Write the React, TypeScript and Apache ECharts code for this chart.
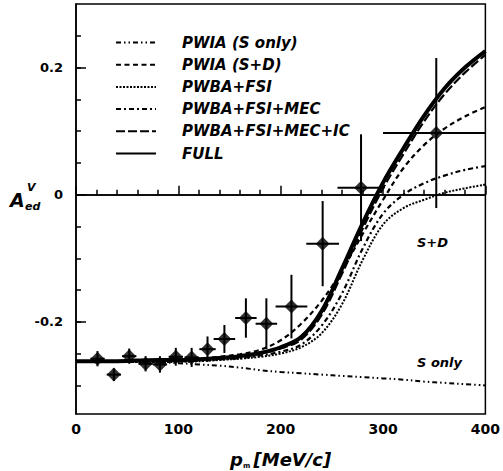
import { useEffect, useRef } from "react";
import * as echarts from "echarts";

// model curves, sampled on pm grid [MeV/c]
const pmGrid = [0, 20, 40, 60, 80, 100, 120, 140, 160, 180, 200, 220, 240, 260, 280, 300, 320, 340, 360, 380, 400];
const pwiaSOnly = [-0.262, -0.262, -0.263, -0.263, -0.264, -0.265, -0.267, -0.269, -0.272, -0.276, -0.279, -0.281, -0.283, -0.285, -0.287, -0.289, -0.291, -0.294, -0.296, -0.298, -0.300];
const pwiaSD = [-0.262, -0.262, -0.262, -0.262, -0.261, -0.260, -0.258, -0.255, -0.251, -0.244, -0.229, -0.203, -0.167, -0.119, -0.062, -0.008, 0.042, 0.078, 0.104, 0.123, 0.138];
const pwbaFsi = [-0.263, -0.263, -0.263, -0.263, -0.263, -0.263, -0.262, -0.260, -0.258, -0.255, -0.250, -0.240, -0.218, -0.172, -0.103, -0.047, -0.021, -0.008, 0.003, 0.010, 0.016];
const pwbaFsiMec = [-0.262, -0.262, -0.262, -0.262, -0.262, -0.262, -0.261, -0.259, -0.257, -0.253, -0.247, -0.236, -0.206, -0.155, -0.085, -0.030, 0.000, 0.018, 0.030, 0.039, 0.045];
const pwbaFsiMecIc = [-0.263, -0.263, -0.263, -0.262, -0.261, -0.261, -0.260, -0.258, -0.255, -0.250, -0.242, -0.228, -0.189, -0.124, -0.054, 0.010, 0.064, 0.115, 0.158, 0.192, 0.220];
const full = [-0.262, -0.262, -0.262, -0.261, -0.260, -0.260, -0.259, -0.257, -0.254, -0.249, -0.240, -0.224, -0.183, -0.116, -0.045, 0.019, 0.073, 0.124, 0.167, 0.200, 0.226];

// measured data points
const dataPm = [21, 37, 52, 68, 82, 97.5, 113, 128.5, 145, 166, 186, 210.5, 241, 278.5, 352];
const dataA = [-0.258, -0.283, -0.254, -0.266, -0.267, -0.255, -0.256, -0.243, -0.227, -0.194, -0.203, -0.176, -0.077, 0.011, 0.097];
const dataPmErr = [7, 7, 7, 7, 7, 7, 7, 8, 10.5, 10.5, 10.5, 15.5, 16, 23, 52];
const dataAErr = [0.012, 0.01, 0.012, 0.012, 0.013, 0.014, 0.015, 0.02, 0.022, 0.031, 0.04, 0.05, 0.067, 0.084, 0.118];

const xLabels = [0, 100, 200, 300, 400];
const yLabels = [-0.2, 0, 0.2];
const yMinorTicks = [-0.3, -0.25, -0.2, -0.15, -0.1, -0.05, 0, 0.05, 0.1, 0.15, 0.2, 0.25];

const seriesNames = ["PWIA (S only)", "PWIA (S+D)", "PWBA+FSI", "PWBA+FSI+MEC", "PWBA+FSI+MEC+IC", "FULL"];

const FONT = "DejaVu Sans";

export default function App() {
  const ref = useRef<HTMLDivElement>(null);
  useEffect(() => {
    if (!ref.current) return;
    const chart = echarts.init(ref.current, null, { renderer: "svg" });
    const curve = (ys: number[]) => pmGrid.map((x, i) => [x, ys[i]]);
    const lineSeries = (name: string, ys: number[], type: any, width: number, z: number) => ({
      name,
      type: "line",
      data: curve(ys),
      smooth: 0.35,
      symbol: "none",
      showSymbol: false,
      z,
      lineStyle: { color: "#000", width, type, cap: "butt" },
      itemStyle: { color: "#000" },
    });
    const points = dataPm.map((x, i) => [x, dataA[i], dataPmErr[i], dataAErr[i]]);

    chart.setOption({
      animation: false,
      backgroundColor: "#fff",
      grid: { left: 76, right: 14, top: 4, bottom: 57, show: true, borderColor: "#000", borderWidth: 1.5 },
      legend: {
        data: seriesNames,
        orient: "vertical",
        left: 110,
        top: 30,
        itemWidth: 40,
        itemHeight: 14,
        itemGap: 7.2,
        selectedMode: false,
        itemStyle: { opacity: 0, borderWidth: 0 },
        textStyle: {
          fontFamily: FONT,
          fontSize: 15,
          fontWeight: "bold",
          fontStyle: "italic",
          color: "#000",
          lineHeight: 14,
          padding: [0, 0, 0, 21],
        },
      },
      xAxis: {
        type: "value",
        min: 0,
        max: 400,
        interval: 100,
        axisLine: { lineStyle: { color: "#000", width: 1.5 } },
        axisTick: { inside: true, length: 9, lineStyle: { color: "#000", width: 1.5 } },
        minorTick: { show: true, splitNumber: 5, length: 5, lineStyle: { color: "#000", width: 1.5 } },
        splitLine: { show: false },
        axisLabel: {
          customValues: xLabels,
          margin: 8,
          fontFamily: FONT,
          fontSize: 14,
          fontWeight: "bold",
          color: "#000",
        },
      },
      yAxis: [
        {
          type: "value",
          min: -0.345,
          max: 0.3,
          axisLine: { lineStyle: { color: "#000", width: 1.5 } },
          axisTick: { inside: true, length: 5, customValues: yMinorTicks, lineStyle: { color: "#000", width: 1.5 } },
          splitLine: { show: false },
          axisLabel: {
            customValues: yLabels,
            margin: 13,
            fontFamily: FONT,
            fontSize: 13,
            fontWeight: "bold",
            color: "#000",
            formatter: (v: number) => (Math.abs(v) < 1e-9 ? "0" : v.toFixed(1)),
          },
        },
        {
          type: "value",
          min: -0.345,
          max: 0.3,
          position: "left",
          axisLine: { show: false },
          axisTick: { inside: true, length: 10, customValues: yLabels, lineStyle: { color: "#000", width: 1.5 } },
          axisLabel: { show: false },
          splitLine: { show: false },
        },
      ],
      graphic: [
        { type: "text", left: 10, top: 190, style: { text: "A", font: `italic bold 19px "${FONT}"`, fill: "#000" } },
        { type: "text", left: 27, top: 182, style: { text: "V", font: `italic bold 11px "${FONT}"`, fill: "#000" } },
        { type: "text", left: 25, top: 201, style: { text: "ed", font: `italic bold 11px "${FONT}"`, fill: "#000" } },
        { type: "text", left: 417, top: 236, style: { text: "S+D", font: `italic bold 13px "${FONT}"`, fill: "#000" } },
        { type: "text", left: 417, top: 356, style: { text: "S only", font: `italic bold 13px "${FONT}"`, fill: "#000" } },
        {
          type: "text",
          left: 230,
          top: 450,
          style: {
            text: "{p|p}{m|m} {u|[MeV/c]}",
            fill: "#000",
            rich: {
              p: { fontFamily: FONT, fontSize: 18, fontWeight: "bold", fontStyle: "italic", lineHeight: 20, verticalAlign: "top" },
              m: { fontFamily: FONT, fontSize: 7, fontWeight: "bold", lineHeight: 20, verticalAlign: "bottom", padding: [0, 0, 1, 0] },
              u: { fontFamily: FONT, fontSize: 18, fontWeight: "bold", fontStyle: "italic", lineHeight: 20, verticalAlign: "top" },
            },
          },
        },
      ],
      series: [
        lineSeries(seriesNames[0], pwiaSOnly, [5, 3, 1.5, 3, 1.5, 3], 2, 3),
        lineSeries(seriesNames[1], pwiaSD, [5, 3.5], 2.2, 3),
        lineSeries(seriesNames[2], pwbaFsi, [2, 1.5], 2, 3),
        lineSeries(seriesNames[3], pwbaFsiMec, [5, 3, 2, 3], 2.2, 3),
        lineSeries(seriesNames[4], pwbaFsiMecIc, [9, 3], 2.2, 4),
        {
          ...lineSeries(seriesNames[5], full, "solid", 4, 5),
          markLine: {
            silent: true,
            symbol: ["none", "none"],
            label: { show: false },
            lineStyle: { color: "#000", width: 1.5, type: "solid" },
            data: [{ yAxis: 0 }],
          },
        },
        {
          name: "errors",
          type: "custom",
          clip: true,
          z: 6,
          data: points,
          encode: { x: 0, y: 1 },
          renderItem: (_p: any, api: any) => {
            const x = api.value(0);
            const y = api.value(1);
            const xe = api.value(2);
            const ye = api.value(3);
            const l = api.coord([x - xe, y]);
            const r = api.coord([x + xe, y]);
            const t = api.coord([x, y + ye]);
            const b = api.coord([x, y - ye]);
            return {
              type: "group",
              children: [
                { type: "line", shape: { x1: l[0], y1: l[1], x2: r[0], y2: r[1] }, style: { stroke: "#000", lineWidth: 2 } },
                { type: "line", shape: { x1: t[0], y1: t[1], x2: b[0], y2: b[1] }, style: { stroke: "#000", lineWidth: 2 } },
              ],
            };
          },
        },
        {
          name: "data",
          type: "scatter",
          z: 7,
          symbol: "diamond",
          symbolSize: [14, 14],
          itemStyle: { color: "#000" },
          data: dataPm.map((x, i) => [x, dataA[i]]),
        },
      ],
    });
    return () => chart.dispose();
  }, []);
  return <div ref={ref} style={{ position: "fixed", left: 0, top: 0, width: 503, height: 471, background: "#fff" }} />;
}
